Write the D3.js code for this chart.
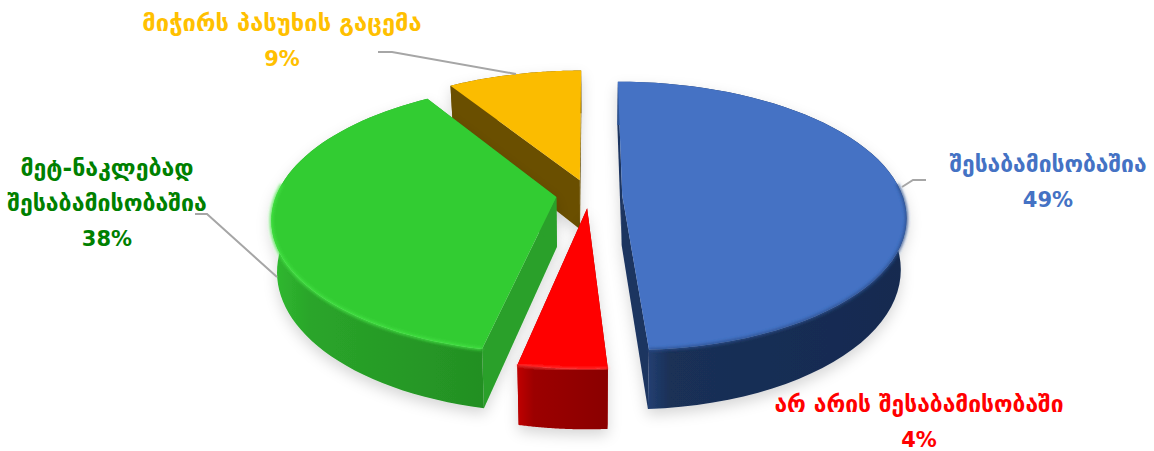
<!DOCTYPE html>
<meta charset="utf-8">
<style>
body { margin: 0; background: #fff; }
text {
  font-family: "DejaVu Sans", sans-serif;
  font-weight: bold;
  text-anchor: middle;
}
</style>
<svg></svg>
<script src="https://d3js.org/d3.v7.min.js"></script>
<script>

// values, clockwise from 12 o'clock
var categories = ["შესაბამისობაშია", "არ არის შესაბამისობაში", "მეტ-ნაკლებად შესაბამისობაშია", "მიჭირს პასუხის გაცემა"];
var values = [49, 4.3, 37.7, 9];
var percentLabels = ["49%", "4%", "38%", "9%"];

var width = 1154, height = 451;
var svg = d3.select("svg").attr("width", width).attr("height", height);

// look of each slice, same order as the values
var topColors = ["#4472c4", "#ff0000", "#33cc33", "#fbbc00"];
var rimColors = [["#2f5597", "#1a3057", "#152a50"], ["#c00000", "#9c0000", "#8a0000"], ["#30ba30", "#2aa52a", "#238f23"], ["#6b5000", "#6b5000", "#6b5000"]];
var cutColors = ["#1c3461", "#a00000", "#2ca02c", "#6b5000"];
var bevelColors = ["#2b4f8f", "#ff3a3a", "#45e545", null];
var textColors = ["#4472c4", "#ff0000", "#008000", "#ffc000"];
var explode = [[0.115, 0], [-0.01, 0.1], [-0.12, 0.015], [-0.037, -0.115]];

// perspective of the tilted disc
var cx = 590, cy = 195, rx = 280, ry = 131, persp = 0.156, depth = 50, taper = 0.982;
function project(u, v, down) {
  var w = 1 / (1 - persp * v);
  return [cx + rx * u * w * (down ? taper : 1), cy + ry * v * w + (down || 0) * w];
}

var pie = d3.pie().sort(null);
var arcs = pie(values);
var line = d3.line();

var defs = svg.append("defs");
var shadow = defs.append("filter").attr("id", "shadow")
  .attr("x", "-20%").attr("y", "-20%").attr("width", "140%").attr("height", "140%");
shadow.append("feDropShadow").attr("dx", 0).attr("dy", 6).attr("stdDeviation", 7)
  .attr("flood-color", "#000").attr("flood-opacity", 0.16);
var soft = defs.append("filter").attr("id", "soft")
  .attr("x", "-10%").attr("y", "-10%").attr("width", "120%").attr("height", "120%");
soft.append("feGaussianBlur").attr("stdDeviation", 1.6);

arcs.forEach(function(d, i) {
  var g = defs.append("linearGradient").attr("id", "rim" + i);
  g.append("stop").attr("offset", "0%").attr("stop-color", rimColors[i][0]);
  g.append("stop").attr("offset", "18%").attr("stop-color", rimColors[i][1]);
  g.append("stop").attr("offset", "100%").attr("stop-color", rimColors[i][2]);
});

function edgePoints(d, i, down) {
  var off = explode[i];
  return d3.range(0, 61).map(function(k) {
    var a = d.startAngle + (d.endAngle - d.startAngle) * k / 60;
    return project(Math.sin(a) + off[0], -Math.cos(a) + off[1], down);
  });
}

// front part of the outer edge, where the rim shows
function frontEdge(d, i) {
  var off = explode[i];
  return d3.range(0, 61).map(function(k) {
    return d.startAngle + (d.endAngle - d.startAngle) * k / 60;
  }).filter(function(a) {
    return -Math.cos(a) > -0.1;
  }).map(function(a) {
    return project(Math.sin(a) + off[0], -Math.cos(a) + off[1], 0);
  });
}

// back to front
var order = [3, 0, 2, 1];
order.forEach(function(i) {
  var d = arcs[i], off = explode[i];
  var g = svg.append("g").attr("filter", "url(#shadow)");
  var top = edgePoints(d, i, 0), low = edgePoints(d, i, depth);
  var apex = project(off[0], off[1], 0), apexLow = project(off[0], off[1], depth);

  // cut faces
  [top[0], top[60]].forEach(function(p, k) {
    var q = k ? low[60] : low[0];
    g.append("path").attr("fill", cutColors[i])
      .attr("d", line([apex, p, q, apexLow]) + "Z");
  });
  // outer rim
  g.append("path").attr("fill", "url(#rim" + i + ")")
    .attr("d", line(top.concat(low.slice().reverse())) + "Z");
  // top face
  var face = [apex].concat(top);
  g.append("path").attr("fill", topColors[i]).attr("d", line(face) + "Z");
  // bevel along the front of the outer edge
  if (bevelColors[i]) {
    g.append("path").attr("fill", "none").attr("stroke", bevelColors[i])
      .attr("stroke-width", 2.5).attr("filter", "url(#soft)").attr("d", line(frontEdge(d, i)));
  }
});

// leader lines and labels
var leaders = [
  [[902, 187], [913, 180], [926, 180]],
  null,
  [[195, 214], [207, 214], [277, 277]],
  [[378, 52], [392, 52], [516, 74]]
];
var labelLines = [
  [categories[0], percentLabels[0]],
  [categories[1], percentLabels[1]],
  ["მეტ-ნაკლებად", "შესაბამისობაშია", percentLabels[2]],
  [categories[3], percentLabels[3]]
];
var labelPos = [[1048, 172], [919, 412], [107, 176], [282, 31]];
var labelSizes = [22.8, 22.8, 23.1, 23.7];

leaders.forEach(function(pts) {
  if (!pts) return;
  svg.append("path").attr("fill", "none").attr("stroke", "#a6a6a6").attr("stroke-width", 2)
    .attr("d", line(pts));
});

labelLines.forEach(function(lines, i) {
  var t = svg.append("text").attr("fill", textColors[i]);
  lines.forEach(function(s, k) {
    t.append("tspan").attr("x", labelPos[i][0]).attr("y", labelPos[i][1] + k * 35)
      .attr("font-size", k == lines.length - 1 ? 21 : labelSizes[i]).text(s);
  });
});

</script>
